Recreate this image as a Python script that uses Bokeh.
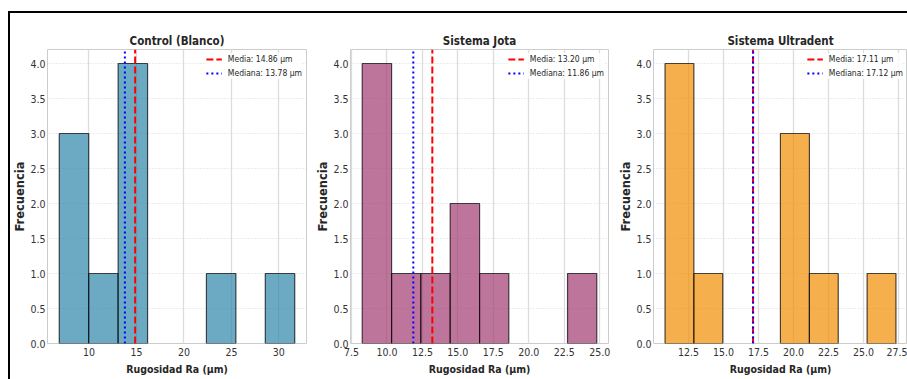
import numpy as np
from bokeh.plotting import figure
from bokeh.layouts import row
from bokeh.models import FixedTicker, NumeralTickFormatter, Range1d
from bokeh.embed import file_html
from bokeh.resources import INLINE

# ---------------- data ----------------
titles = ["Control (Blanco)", "Sistema Jota", "Sistema Ultradent"]
colors = ["#2E86AB", "#A23B72", "#F18F01"]

control_edges = [6.87, 9.97, 13.07, 16.17, 19.27, 22.37, 25.47, 28.57, 31.67]
control_counts = [3, 1, 4, 0, 0, 1, 0, 1]
jota_edges = [8.26, 10.33, 12.39, 14.46, 16.53, 18.59, 20.66, 22.73, 24.79]
jota_counts = [4, 1, 1, 2, 1, 0, 0, 1]
ultra_edges = [10.83, 12.89, 14.95, 17.01, 19.07, 21.14, 23.20, 25.26, 27.32]
ultra_counts = [4, 1, 0, 0, 3, 1, 0, 1]

means = [14.86, 13.20, 17.11]
medians = [13.78, 11.86, 17.12]

control_xticks = [10, 15, 20, 25, 30]
jota_xticks = [7.5, 10.0, 12.5, 15.0, 17.5, 20.0, 22.5, 25.0]
ultra_xticks = [12.5, 15.0, 17.5, 20.0, 22.5, 25.0, 27.5]
x_formats = ["0", "0.0", "0.0"]
y_ticks = [0.0, 0.5, 1.0, 1.5, 2.0, 2.5, 3.0, 3.5, 4.0]

x_label = "Rugosidad Ra (µm)"
y_label = "Frecuencia"

# ---------------- styling ----------------
COND = "DejaVu Sans Condensed"
TXT = "#262626"

panels = [
    (control_edges, control_counts, control_xticks),
    (jota_edges, jota_counts, jota_xticks),
    (ultra_edges, ultra_counts, ultra_xticks),
]
sizes = [  # width, min_border_left, min_border_right
    (303, 35, 7),
    (303, 34, 8),
    (291, 32, 0),
]

figs = []
for i, ((edges, counts, xticks), (w, bl, br)) in enumerate(zip(panels, sizes)):
    edges = np.array(edges)
    counts = np.array(counts)
    lo, hi = edges[0], edges[-1]
    rng = hi - lo
    ytop = counts.max() * 1.05
    p = figure(width=w, height=366, output_backend="svg", toolbar_location=None,
               x_range=Range1d(lo - 0.05 * rng, hi + 0.05 * rng),
               y_range=Range1d(0, ytop),
               min_border_left=bl, min_border_right=br,
               min_border_top=36, min_border_bottom=36,
               background_fill_color="white", border_fill_color="white")
    p.title.text = titles[i]
    p.title.align = "center"
    p.title.text_font = COND
    p.title.text_font_style = "bold"
    p.title.text_font_size = "11.5px"
    p.title.text_color = TXT
    p.title.standoff = 4

    p.outline_line_color = "#cccccc"
    p.outline_line_width = 1

    for ax in (p.xaxis[0], p.yaxis[0]):
        ax.axis_line_color = None
        ax.major_tick_line_color = None
        ax.minor_tick_line_color = None
        ax.major_tick_out = 0
        ax.major_tick_in = 0
        ax.major_label_text_font = COND
        ax.major_label_text_font_size = "10.5px"
        ax.major_label_text_color = "#333333"
        ax.axis_label_text_font_style = "bold"
        ax.axis_label_text_color = TXT

    p.xaxis.ticker = FixedTicker(ticks=xticks)
    p.xaxis.formatter = NumeralTickFormatter(format=x_formats[i])
    p.xaxis.axis_label = x_label
    p.xaxis.axis_label_text_font = COND
    p.xaxis.axis_label_text_font_size = "10.5px"
    p.xaxis.major_label_standoff = 4
    p.xaxis.axis_label_standoff = 4

    p.yaxis.ticker = FixedTicker(ticks=y_ticks)
    p.yaxis.formatter = NumeralTickFormatter(format="0.0")
    p.yaxis.axis_label = y_label
    p.yaxis.axis_label_text_font = "DejaVu Sans"
    p.yaxis.axis_label_text_font_size = "11.5px"
    p.yaxis.major_label_standoff = 2
    p.yaxis.axis_label_standoff = 0

    p.xgrid.grid_line_color = "#dcdcdc"
    p.xgrid.grid_line_width = 1.3
    p.ygrid.grid_line_color = "#d8d8d8"
    p.ygrid.grid_line_width = 1
    p.ygrid.grid_line_dash = "1 2"

    mask = counts > 0
    p.quad(left=edges[:-1][mask], right=edges[1:][mask], bottom=0, top=counts[mask],
           fill_color=colors[i], fill_alpha=0.7,
           line_color="black", line_alpha=0.7, line_width=1.2)

    p.line(x=[means[i], means[i]], y=[0, ytop], line_color="red", line_width=2,
           line_dash="7 3", legend_label=f"Media: {means[i]:.2f} µm")
    p.line(x=[medians[i], medians[i]], y=[0, ytop], line_color="blue", line_width=2,
           line_dash="2 3", legend_label=f"Mediana: {medians[i]:.2f} µm")

    lg = p.legend[0]
    lg.location = "top_right"
    lg.background_fill_color = "white"
    lg.background_fill_alpha = 0.8
    lg.border_line_color = None
    lg.label_text_font = COND
    lg.label_text_font_size = "8.5px"
    lg.label_text_color = TXT
    lg.glyph_width = 16
    lg.glyph_height = 12
    lg.label_standoff = 6
    lg.spacing = 2
    lg.padding = 3
    lg.margin = 4
    lg.label_height = 12

    figs.append(p)

layout = row(*figs, margin=(11, 0, 0, 8),
             styles={"border-top": "2px solid black", "border-left": "2px solid black"})

open("out.html", "w").write(file_html(layout, INLINE))
